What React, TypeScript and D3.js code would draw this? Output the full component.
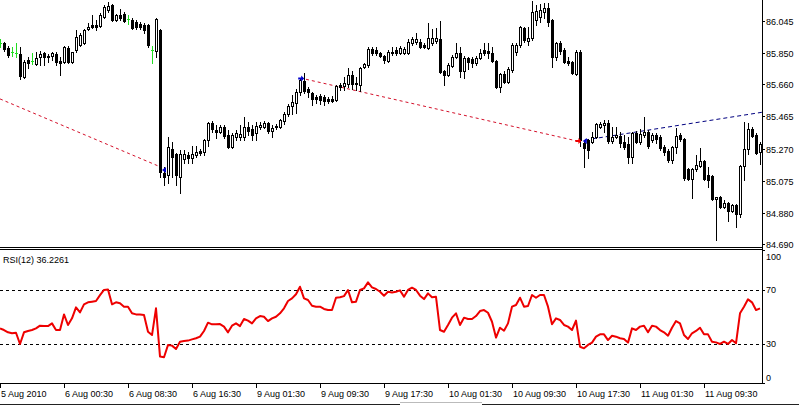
import * as React from "react";
import * as d3 from "d3";

// 30 min bars, USDJPY, 5 Aug 2010 16:30 onwards
const opens = [
  85.910, 85.910, 85.880, 85.855, 85.849, 85.843, 85.704, 85.807, 85.801, 85.783,
  85.825, 85.849, 85.831, 85.831, 85.843, 85.801, 85.795, 85.880, 85.795, 85.867,
  85.898, 85.910, 85.995, 86.019, 86.019, 86.013, 86.067, 86.110, 86.140, 86.049,
  86.080, 86.086, 86.055, 86.049, 86.037, 86.025, 86.019, 86.019, 85.867, 85.861,
  85.989, 85.122, 85.110, 85.268, 85.237, 85.098, 85.207, 85.231, 85.213, 85.231,
  85.255, 85.249, 85.322, 85.425, 85.383, 85.371, 85.401, 85.352, 85.280, 85.340,
  85.340, 85.340, 85.401, 85.389, 85.364, 85.401, 85.401, 85.425, 85.377, 85.407,
  85.401, 85.437, 85.480, 85.528, 85.546, 85.613, 85.680, 85.631, 85.607, 85.583,
  85.589, 85.583, 85.571, 85.571, 85.564, 85.655, 85.649, 85.661, 85.716, 85.667,
  85.655, 85.764, 85.777, 85.874, 85.867, 85.849, 85.831, 85.801, 85.849, 85.867,
  85.849, 85.849, 85.849, 85.910, 85.916, 85.916, 85.898, 85.880, 85.910, 85.922,
  85.934, 85.740, 85.716, 85.771, 85.825, 85.849, 85.740, 85.819, 85.813, 85.789,
  85.819, 85.867, 85.861, 85.849, 85.801, 85.643, 85.722, 85.674, 85.746, 85.855,
  85.898, 86.001, 85.922, 85.940, 86.049, 86.067, 86.098, 86.122, 86.049, 85.825,
  85.910, 85.867, 85.801, 85.795, 85.722, 85.855, 85.304, 85.322, 85.310, 85.340,
  85.401, 85.413, 85.425, 85.316, 85.340, 85.346, 85.310, 85.298, 85.219, 85.364,
  85.310, 85.352, 85.371, 85.322, 85.352, 85.340, 85.280, 85.255, 85.201, 85.280,
  85.352, 85.328, 85.146, 85.086, 85.146, 85.164, 85.195, 85.110, 85.104, 84.964,
  84.977, 84.916, 84.940, 84.892, 84.928, 84.874, 85.164, 85.268, 85.389, 85.352,
  85.249,
];
const highs = [
  85.934, 85.916, 85.892, 85.886, 85.910, 85.886, 85.807, 85.825, 85.849, 85.855,
  85.861, 85.855, 85.843, 85.855, 85.855, 85.825, 85.892, 85.892, 85.855, 85.989,
  85.970, 85.995, 86.031, 86.080, 86.049, 86.092, 86.140, 86.158, 86.146, 86.086,
  86.116, 86.098, 86.080, 86.061, 86.049, 86.037, 86.031, 86.025, 85.892, 86.061,
  85.995, 85.158, 85.340, 85.310, 85.243, 85.261, 85.261, 85.249, 85.286, 85.286,
  85.268, 85.328, 85.431, 85.437, 85.413, 85.413, 85.413, 85.383, 85.364, 85.383,
  85.413, 85.461, 85.431, 85.413, 85.431, 85.431, 85.437, 85.431, 85.413, 85.419,
  85.449, 85.492, 85.540, 85.595, 85.631, 85.698, 85.728, 85.643, 85.613, 85.595,
  85.601, 85.595, 85.583, 85.589, 85.655, 85.667, 85.704, 85.758, 85.740, 85.704,
  85.764, 85.789, 85.886, 85.886, 85.886, 85.855, 85.837, 85.867, 85.886, 85.886,
  85.892, 85.886, 85.934, 85.946, 85.970, 85.934, 85.910, 86.031, 85.995, 86.001,
  86.043, 85.746, 85.789, 85.837, 85.910, 85.886, 85.831, 85.825, 85.825, 85.831,
  85.874, 85.910, 85.910, 85.886, 85.807, 85.728, 85.740, 85.764, 85.910, 85.910,
  86.013, 86.007, 86.007, 86.164, 86.140, 86.146, 86.152, 86.152, 86.055, 85.916,
  85.922, 85.880, 85.825, 85.801, 85.867, 85.867, 85.322, 85.328, 85.371, 85.425,
  85.431, 85.443, 85.443, 85.401, 85.401, 85.371, 85.352, 85.340, 85.371, 85.377,
  85.389, 85.461, 85.383, 85.364, 85.364, 85.352, 85.292, 85.268, 85.286, 85.395,
  85.364, 85.334, 85.152, 85.152, 85.231, 85.274, 85.201, 85.158, 85.110, 84.977,
  84.983, 84.958, 84.946, 84.934, 84.934, 85.171, 85.431, 85.425, 85.401, 85.364,
  85.310,
];
const lows = [
  85.886, 85.861, 85.825, 85.831, 85.825, 85.692, 85.698, 85.758, 85.783, 85.777,
  85.777, 85.777, 85.795, 85.807, 85.777, 85.716, 85.789, 85.789, 85.789, 85.855,
  85.892, 85.904, 85.989, 86.001, 85.989, 86.007, 86.061, 86.098, 86.043, 86.043,
  86.049, 86.037, 86.025, 85.995, 85.995, 85.995, 85.970, 85.886, 85.789, 85.825,
  85.098, 85.049, 85.061, 85.098, 85.049, 85.001, 85.183, 85.183, 85.183, 85.219,
  85.231, 85.231, 85.286, 85.371, 85.334, 85.364, 85.334, 85.274, 85.274, 85.322,
  85.322, 85.322, 85.352, 85.322, 85.322, 85.389, 85.395, 85.364, 85.340, 85.389,
  85.395, 85.419, 85.467, 85.480, 85.486, 85.595, 85.607, 85.583, 85.534, 85.546,
  85.540, 85.534, 85.546, 85.552, 85.558, 85.625, 85.625, 85.643, 85.631, 85.625,
  85.619, 85.758, 85.764, 85.837, 85.837, 85.825, 85.789, 85.795, 85.837, 85.837,
  85.843, 85.843, 85.843, 85.898, 85.904, 85.880, 85.880, 85.874, 85.898, 85.910,
  85.728, 85.655, 85.710, 85.764, 85.819, 85.704, 85.698, 85.752, 85.764, 85.777,
  85.813, 85.837, 85.819, 85.795, 85.637, 85.613, 85.667, 85.667, 85.734, 85.837,
  85.886, 85.916, 85.898, 85.928, 86.019, 86.037, 86.061, 86.013, 85.764, 85.807,
  85.843, 85.789, 85.777, 85.722, 85.716, 85.286, 85.158, 85.213, 85.304, 85.334,
  85.395, 85.371, 85.304, 85.304, 85.334, 85.280, 85.268, 85.183, 85.183, 85.304,
  85.298, 85.340, 85.274, 85.310, 85.304, 85.261, 85.231, 85.189, 85.183, 85.243,
  85.316, 85.080, 85.080, 84.971, 85.134, 85.158, 85.080, 85.037, 84.958, 84.716,
  84.910, 84.910, 84.831, 84.886, 84.795, 84.855, 85.080, 85.237, 85.340, 85.237,
  85.177,
];
const closes = [
  85.910, 85.874, 85.837, 85.855, 85.849, 85.710, 85.795, 85.789, 85.801, 85.819,
  85.843, 85.825, 85.825, 85.849, 85.795, 85.789, 85.886, 85.795, 85.855, 85.946,
  85.958, 85.989, 86.007, 86.007, 86.007, 86.080, 86.128, 86.134, 86.049, 86.080,
  86.061, 86.043, 86.055, 86.001, 86.007, 86.007, 85.989, 85.898, 85.867, 86.055,
  85.128, 85.098, 85.280, 85.219, 85.110, 85.237, 85.237, 85.213, 85.237, 85.249,
  85.243, 85.322, 85.425, 85.389, 85.371, 85.401, 85.346, 85.280, 85.352, 85.364,
  85.358, 85.401, 85.377, 85.352, 85.407, 85.413, 85.425, 85.377, 85.395, 85.401,
  85.443, 85.480, 85.528, 85.552, 85.613, 85.686, 85.619, 85.613, 85.571, 85.571,
  85.564, 85.558, 85.558, 85.558, 85.649, 85.643, 85.667, 85.716, 85.661, 85.661,
  85.758, 85.783, 85.874, 85.849, 85.849, 85.831, 85.807, 85.855, 85.855, 85.849,
  85.880, 85.874, 85.916, 85.934, 85.934, 85.886, 85.886, 85.940, 85.940, 85.940,
  85.734, 85.716, 85.777, 85.825, 85.849, 85.740, 85.819, 85.795, 85.789, 85.819,
  85.849, 85.849, 85.849, 85.801, 85.643, 85.722, 85.674, 85.752, 85.898, 85.898,
  86.007, 85.928, 85.940, 86.098, 86.104, 86.110, 86.122, 86.037, 85.825, 85.910,
  85.861, 85.795, 85.789, 85.728, 85.855, 85.322, 85.274, 85.261, 85.340, 85.419,
  85.419, 85.425, 85.316, 85.340, 85.352, 85.304, 85.280, 85.219, 85.364, 85.310,
  85.358, 85.371, 85.286, 85.352, 85.328, 85.274, 85.249, 85.201, 85.280, 85.346,
  85.328, 85.092, 85.086, 85.146, 85.171, 85.195, 85.086, 85.080, 84.964, 84.977,
  84.916, 84.940, 84.892, 84.928, 84.874, 85.164, 85.268, 85.389, 85.346, 85.243,
  85.298,
];
const rsi = [
  41.5, 40.3, 38.6, 37.9, 38.3, 30.0, 38.6, 39.6, 40.3, 41.5,
  43.5, 43.2, 43.2, 45.2, 40.3, 40.3, 51.8, 44.0, 48.9, 57.0,
  53.3, 59.2, 60.7, 61.2, 61.7, 66.0, 69.8, 70.2, 59.2, 60.7,
  60.0, 57.5, 57.5, 52.6, 51.8, 51.8, 51.4, 39.0, 36.6, 56.3,
  20.7, 20.2, 29.3, 28.8, 26.3, 31.7, 32.2, 32.5, 33.4, 34.2,
  35.4, 39.6, 45.7, 44.5, 44.5, 44.7, 42.8, 38.6, 43.5, 45.2,
  43.2, 48.4, 47.2, 45.2, 48.9, 50.6, 50.1, 46.9, 48.9, 50.1,
  52.6, 56.3, 61.7, 63.6, 66.6, 72.2, 63.6, 62.4, 58.2, 57.5,
  57.5, 55.8, 55.0, 55.0, 64.1, 64.4, 65.3, 69.8, 60.7, 61.2,
  69.8, 71.0, 75.4, 71.7, 70.5, 68.5, 65.6, 68.5, 68.0, 68.5,
  69.5, 64.8, 69.8, 71.5, 69.8, 65.6, 63.1, 67.3, 64.4, 64.8,
  40.3, 39.0, 44.0, 49.4, 52.6, 44.0, 49.4, 48.4, 48.4, 50.6,
  54.3, 55.0, 53.0, 46.4, 34.7, 42.0, 39.8, 45.2, 57.5, 58.7,
  64.1, 57.5, 58.0, 66.1, 64.1, 66.1, 66.1, 57.5, 44.5, 48.9,
  47.7, 44.0, 42.8, 40.3, 47.2, 28.0, 26.8, 29.3, 31.0, 35.4,
  37.1, 37.1, 32.9, 36.1, 35.4, 34.2, 33.7, 31.0, 41.5, 40.3,
  42.8, 43.5, 38.6, 43.5, 42.8, 40.3, 38.6, 36.1, 42.0, 46.9,
  45.2, 36.6, 33.7, 37.9, 39.6, 42.0, 37.1, 37.1, 31.7, 31.2,
  30.0, 31.7, 30.0, 32.9, 30.5, 52.6, 57.5, 62.9, 60.7, 55.0,
  56.3,
];

const priceTicks = [86.045, 85.85, 85.66, 85.465, 85.27, 85.075, 84.88, 84.69];
const rsiTicks = [100, 70, 30, 0];
const rsiLevels = [70, 30];
const dateLabels = [
  "5 Aug 2010", "6 Aug 00:30", "6 Aug 08:30", "6 Aug 16:30", "9 Aug 01:30", "9 Aug 09:30",
  "9 Aug 17:30", "10 Aug 01:30", "10 Aug 09:30", "10 Aug 17:30", "11 Aug 01:30", "11 Aug 09:30",
];
const dateBars = [0, 16, 32, 48, 64, 80, 96, 112, 128, 144, 160, 176];

// zigzag lines: [bar, price] pairs
const redLines = [
  [[0, 85.571], [40.5, 85.155]],
  [[76.5, 85.69], [145, 85.312]],
];
const blueLines = [[[146.25, 85.322], [190.5, 85.49]]];
// arrow markers: bar, price
const leftMarks = [[41, 85.14], [146.2, 85.316]];
const blueRight = [[75.3, 85.694]];
const redRight = [[144.6, 85.316]];

const W = 799;
const H = 406;
const AX = 762; // right axis x
const FONT = "'Liberation Sans', Arial, sans-serif";

const App: React.FunctionComponent = () => {
  const x = d3.scaleLinear().domain([0, 190]).range([0, 760]);
  const yP = d3.scaleLinear().domain([84.69, 86.045]).range([244.3, 20.7]);
  const yR = d3.scaleLinear().domain([0, 100]).range([384.7, 249]);

  const rsiLine = d3
    .line<number>()
    .x((_, i) => x(i))
    .y((v) => yR(v));

  const candles = opens.map((o, i) => {
    const cx = Math.round(x(i));
    const yh = Math.round(yP(highs[i]));
    const yl = Math.round(yP(lows[i]));
    const yo = Math.round(yP(o));
    const yc = Math.round(yP(closes[i]));
    const c = closes[i];
    if (o === c) {
      // doji drawn as green cross
      return (
        <g key={i} fill="#22dd22">
          <rect x={cx} y={yh} width={1} height={yl - yh + 1} />
          <rect x={cx - 1} y={yo} width={3} height={1} />
        </g>
      );
    }
    const top = Math.min(yo, yc);
    const bot = Math.max(yo, yc);
    return (
      <g key={i}>
        <rect x={cx} y={yh} width={1} height={yl - yh + 1} fill="#000" />
        {c > o ? (
          <rect x={cx - 0.5} y={top + 0.5} width={2} height={Math.max(bot - top, 1)} fill="#fff" stroke="#000" />
        ) : (
          <rect x={cx - 1} y={top} width={3} height={bot - top + 1} fill="#000" />
        )}
      </g>
    );
  });

  return (
    <div style={{ position: "fixed", left: 0, top: 0 }}>
      <svg width={W} height={H} style={{ display: "block", background: "#fff" }} shapeRendering="crispEdges">
        <defs>
          <clipPath id="pclip">
            <rect x={0} y={0} width={AX} height={247} />
          </clipPath>
          <clipPath id="rclip">
            <rect x={0} y={250} width={AX} height={133} />
          </clipPath>
        </defs>

        {/* price panel */}
        <g clipPath="url(#pclip)">
          {redLines.map((l, i) => (
            <line key={"r" + i} x1={x(l[0][0])} y1={yP(l[0][1])} x2={x(l[1][0])} y2={yP(l[1][1])}
              stroke="#d4102a" strokeDasharray="3,3" shapeRendering="auto" />
          ))}
          {blueLines.map((l, i) => (
            <line key={"b" + i} x1={x(l[0][0])} y1={yP(l[0][1])} x2={x(l[1][0])} y2={yP(l[1][1])}
              stroke="#000080" strokeDasharray="4,3" shapeRendering="auto" />
          ))}
          {candles}
          {leftMarks.map((m, i) => (
            <path key={"lm" + i} transform={`translate(${x(m[0])},${yP(m[1])})`}
              d="M2,-3 L-2,0 L2,3 Z" fill="#0000cc" shapeRendering="auto" />
          ))}
          {blueRight.map((m, i) => (
            <path key={"br" + i} transform={`translate(${x(m[0])},${yP(m[1])})`}
              d="M-3,-1 H0 V-3 L3,0 L0,3 V1 H-3 Z" fill="#0000cc" shapeRendering="auto" />
          ))}
          {redRight.map((m, i) => (
            <path key={"rr" + i} transform={`translate(${x(m[0])},${yP(m[1])})`}
              d="M-3,-1 H0 V-3 L3,0 L0,3 V1 H-3 Z" fill="#ee0000" shapeRendering="auto" />
          ))}
        </g>

        {/* rsi panel */}
        <g clipPath="url(#rclip)">
          {rsiLevels.map((v) => (
            <line key={v} x1={0} x2={AX} y1={Math.round(yR(v)) + 0.5} y2={Math.round(yR(v)) + 0.5}
              stroke="#000" strokeDasharray="3,3" />
          ))}
          <path d={rsiLine(rsi) ?? ""} fill="none" stroke="#ee0000" strokeWidth={2}
            strokeLinejoin="round" shapeRendering="auto" />
        </g>
        <text x={3} y={263} fontFamily={FONT} fontSize={9} fill="#000">RSI(12) 36.2261</text>

        {/* frame */}
        <rect x={0} y={247} width={AX + 1} height={1} fill="#000" />
        <rect x={0} y={249} width={AX + 1} height={1} fill="#000" />
        <rect x={0} y={383} width={AX + 1} height={1} fill="#000" />
        <rect x={AX} y={0} width={1} height={384} fill="#000" />
        <rect x={0} y={404} width={400} height={1} fill="#222" />
        <rect x={400} y={402} width={82} height={1} fill="#bbb" />
        <rect x={482} y={404} width={W - 482} height={1} fill="#222" />

        {/* price axis */}
        {priceTicks.map((p) => {
          const y = Math.round(yP(p));
          return (
            <g key={p}>
              <rect x={AX} y={y} width={3} height={1} fill="#000" />
              <text x={766} y={y + 3.5} fontFamily={FONT} fontSize={9} fill="#000">{p.toFixed(3)}</text>
            </g>
          );
        })}

        {/* rsi axis */}
        {rsiTicks.map((v) => {
          const y = Math.min(Math.max(yR(v), 256.7), 377.7);
          return (
            <g key={v}>
              <rect x={AX} y={Math.round(yR(Math.min(Math.max(v, 1), 99)))} width={3} height={1} fill="#000" />
              <text x={766} y={y + 3.5} fontFamily={FONT} fontSize={9} fill="#000">{v}</text>
            </g>
          );
        })}

        {/* time axis */}
        {dateBars.map((b, i) => {
          const tx = Math.round(x(b));
          return (
            <g key={b}>
              <rect x={tx} y={384} width={1} height={4} fill="#000" />
              <text x={tx + 1} y={397} fontFamily={FONT} fontSize={9} fill="#000">{dateLabels[i]}</text>
            </g>
          );
        })}
      </svg>
    </div>
  );
};

export default App;
